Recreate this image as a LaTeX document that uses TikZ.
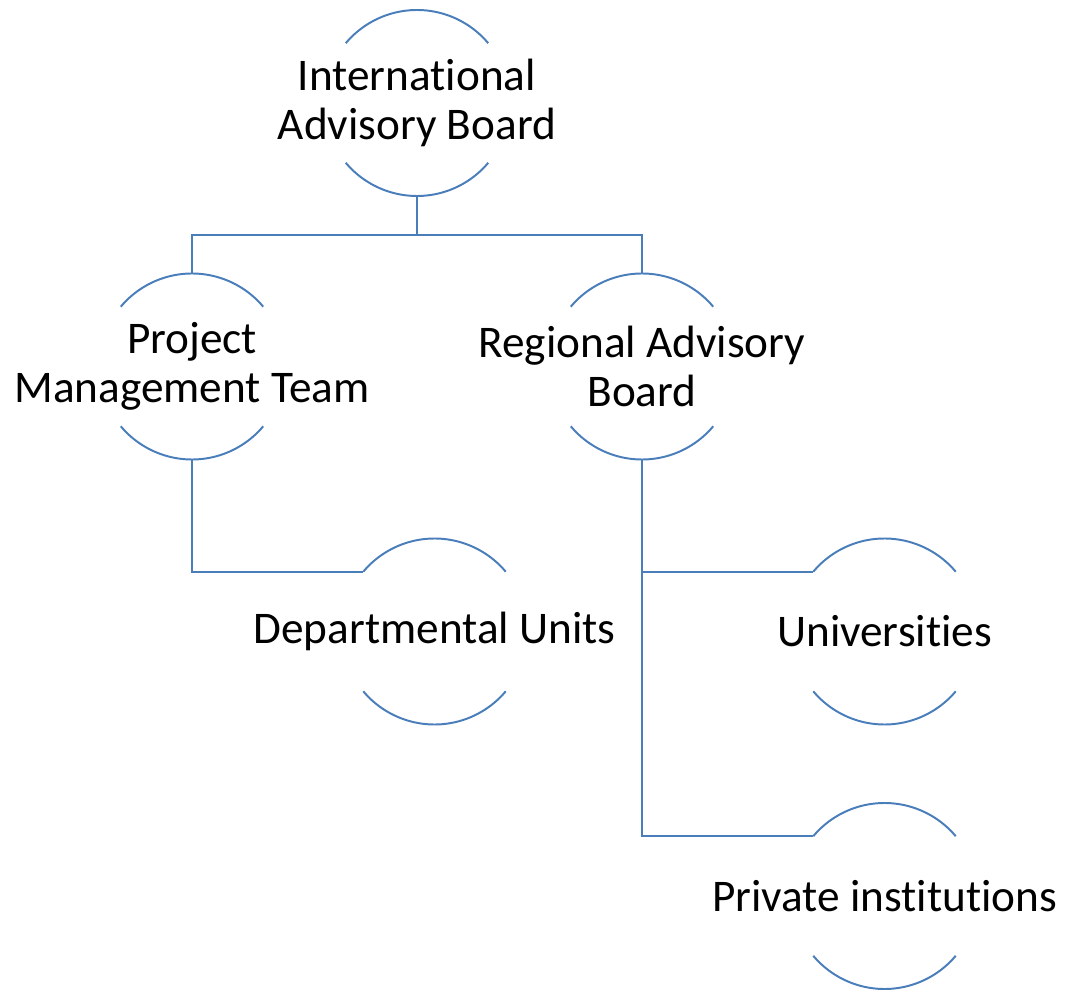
\documentclass[tikz,border=0pt]{standalone}
\usepackage{fontspec}
\setmainfont[Ligatures=NoCommon]{Carlito}
\usetikzlibrary{calc}
\definecolor{orgblue}{RGB}{74,126,187}

\begin{document}
\begin{tikzpicture}[
  unit/.style={align=center, inner sep=0pt, font=\fontsize{32.2}{34.6}\selectfont},
  link/.style={draw=orgblue, line width=1.4pt},
]
\useasboundingbox (0,0) rectangle (26.775,-24.775);

\node[unit] (iab) at (10.425,-2.575) {International\\Advisory Board};
\node[unit] (pmt) at (4.8,-9.1625) {Project\\Management Team};
\node[unit] (rab) at (16.05,-9.1625) {Regional Advisory\\Board};
\node[unit] (du) at (10.8625,-15.7875) {Departmental Units};
\node[unit] (uni) at (22.1125,-15.7875) {Universities};
\node[unit] (pri) at (22.1125,-22.4) {Private institutions};

% open circles round the texts
\foreach \n in {iab,pmt,rab,du,uni,pri}{
  \draw[link] ($(\n.center)+(140:2.325)$) coordinate (\n-in) arc (140:40:2.325);
  \draw[link] ($(\n.center)+(220:2.325)$) arc (220:320:2.325);
  \coordinate (\n-top) at ($(\n.center)+(0,2.325)$);
  \coordinate (\n-bot) at ($(\n.center)+(0,-2.325)$);
}

\draw[link] (iab-bot) -- ++(0,-0.975) coordinate (bus);
\draw[link] (pmt-top) |- (bus) -| (rab-top);
\draw[link] (pmt-bot) |- (du-in);
\draw[link] (rab-bot) |- (uni-in);
\draw[link] (rab-bot) |- (pri-in);

\end{tikzpicture}
\end{document}
